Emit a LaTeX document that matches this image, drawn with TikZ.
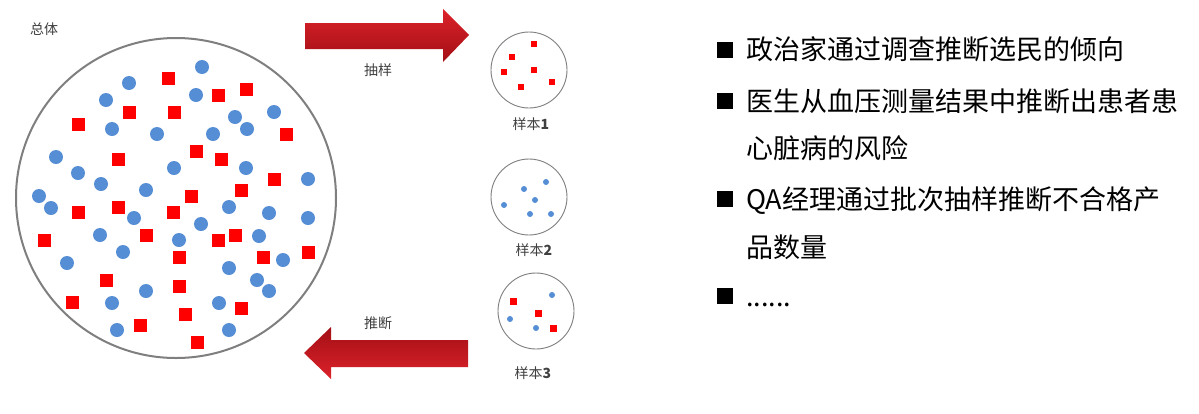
\documentclass[tikz,border=0pt]{standalone}
\usepackage{fontspec}
\setmainfont{Noto Sans CJK SC}
\definecolor{dotblue}{HTML}{558ED5}
\definecolor{dotred}{HTML}{FF0000}
\definecolor{rimgray}{HTML}{7F7F7F}
\definecolor{labelgray}{HTML}{404040}
\definecolor{arrowlight}{HTML}{DC222A}
\definecolor{arrowdark}{HTML}{A30F16}
\begin{document}
\begin{tikzpicture}[x=1pt,y=-1pt,
  bigring/.style={circle, draw=rimgray, line width=2pt, minimum size=320pt, inner sep=0pt},
  smallring/.style={circle, draw=rimgray, line width=0.9pt, minimum size=76pt, inner sep=0pt},
  lbl/.style={text=labelgray, font=\fontsize{14}{14}\selectfont, inner sep=0pt},
  item/.style={anchor=base west, inner sep=0pt, font=\fontsize{27}{27}\selectfont},
  bulletbox/.style={fill=black, minimum size=16pt, inner sep=0pt}]
\useasboundingbox (0,0) rectangle (1199,413);
\fill[white] (0,0) rectangle (1199,413);
% population
\node[bigring] (pop) at (176,198) {};
\node[lbl] (poplbl) at (44,29) {总体};
\foreach \x/\y in {202/67,129/83,106/100,196/95,235/117,274/112,112/129,157/134,213/134,247/129,
  56/157,78/173,101/184,174/168,246/168,39/196,146/190,51/208,134/218,229/207,269/213,201/224,
  100/235,179/240,259/236,123/252,67/263,283/260,229/268,257/280,269/291,146/291,112/303,219/303,
  117/330,229/330,308/179,308/218}
  \fill[dotblue] (\x,\y) circle (7pt);
\foreach \x/\y in {168/78,218/95,246/89,129/112,174/112,78/124,286/134,196/151,221/159,118/159,
  274/179,241/190,191/196,78/212,118/207,173/212,44/240,146/235,218/240,235/235,179/257,263/257,
  106/280,179/286,72/302,241/308,185/314,140/325,197/342,308/252}
  \fill[dotred] (\x-6.5,\y-6.5) rectangle (\x+6.5,\y+6.5);
% arrows
\shade[top color=arrowlight, bottom color=arrowdark]
  (305,23) -- (443,23) -- (443,9) -- (469,35) -- (443,62) -- (443,49) -- (305,49) -- cycle;
\node[lbl] (samplbl) at (378,70) {抽样};
\shade[top color=arrowdark, bottom color=arrowlight]
  (468,340) -- (331,340) -- (331,327) -- (304,353) -- (331,379) -- (331,367) -- (468,367) -- cycle;
\node[lbl] (inflbl) at (378,323) {推断};
% samples
\node[smallring] (s1) at (529,70) {};
\foreach \x/\y in {534/44,512/57,504/72,534/70,552/82,521/87}
  \fill[dotred] (\x-3,\y-3) rectangle (\x+3,\y+3);
\node[lbl] (s1lbl) at (531,124) {样本\textbf{1}};
\node[smallring] (s2) at (529,197) {};
\foreach \x/\y in {546/182,524/189,535/200,504/205,530/214,551/214}
  \fill[dotblue] (\x,\y) circle (3pt);
\node[lbl] (s2lbl) at (534,250) {样本\textbf{2}};
\node[smallring] (s3) at (536,311) {};
\foreach \x/\y in {513/301,538/313,553/328}
  \fill[dotred] (\x-3.5,\y-3.5) rectangle (\x+3.5,\y+3.5);
\foreach \x/\y in {552/295,510/319,536/328}
  \fill[dotblue] (\x,\y) circle (3pt);
\node[lbl] (s3lbl) at (533,373) {样本\textbf{3}};
% list
\node[bulletbox] (b1) at (724.5,49.5) {};
\node[item] (t1) at (746,59) {政治家通过调查推断选民的倾向};
\node[bulletbox] (b2) at (724.5,101) {};
\node[item] (t2) at (746,111) {医生从血压测量结果中推断出患者患};
\node[item] (t2b) at (746,158) {心脏病的风险};
\node[bulletbox] (b3) at (724.5,199) {};
\node[item] (t3) at (746,209) {QA经理通过批次抽样推断不合格产};
\node[item] (t3b) at (746,257) {品数量};
\node[bulletbox] (b4) at (724.5,296) {};
\node[item] (t4) at (746,306) {......};
\end{tikzpicture}
\end{document}
